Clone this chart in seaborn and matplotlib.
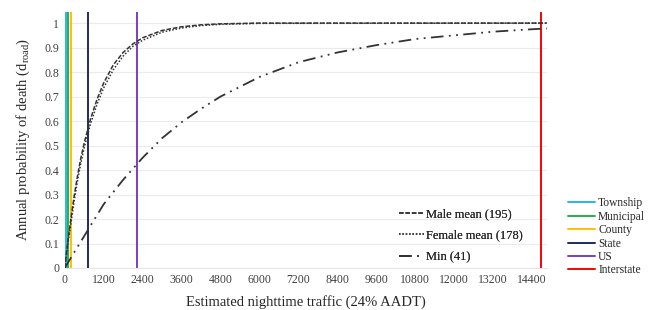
import numpy as np
import pandas as pd
import matplotlib
matplotlib.use('Agg')
import matplotlib.pyplot as plt
from matplotlib.ticker import MultipleLocator, FuncFormatter
from matplotlib.lines import Line2D
import seaborn as sns

# Curve data (traffic vs. annual probability of death)
traffic = [0, 100, 200, 300, 400, 500, 600, 800, 1000, 1200, 1500, 1800,
           2100, 2400, 3000, 3600, 4200, 4800, 6000, 14850]
male_mean = [0, 0.11, 0.21, 0.30, 0.38, 0.45, 0.51, 0.61, 0.69, 0.755, 0.83,
             0.88, 0.915, 0.94, 0.97, 0.985, 0.993, 0.997, 1.0, 1.0]
female_mean = [0, 0.10, 0.19, 0.28, 0.36, 0.43, 0.49, 0.59, 0.67, 0.735, 0.81,
               0.865, 0.905, 0.93, 0.963, 0.98, 0.99, 0.995, 0.999, 1.0]

traffic_min = [0, 600, 1200, 1800, 2400, 3000, 3600, 4200, 4800, 5400, 6000,
               7200, 8400, 9600, 10800, 12000, 13200, 14400, 14850]
min_curve = [0, 0.13, 0.26, 0.36, 0.45, 0.53, 0.595, 0.65, 0.70, 0.74, 0.78,
             0.84, 0.88, 0.91, 0.935, 0.95, 0.965, 0.975, 0.978]

# Road class mean nighttime traffic (vertical lines)
road_names = ['Township', 'Municipal', 'County', 'State', 'US', 'Interstate']
road_traffic = [40, 110, 195, 710, 2215, 14680]
road_colors = ['#29B6E8', '#22B14C', '#FFC000', '#1F2A5C', '#7B3FBF', '#FF0000']

sns.set_style('white')
plt.rcParams['font.family'] = ['Liberation Serif', 'DejaVu Serif']
plt.rcParams['mathtext.fontset'] = 'custom'
plt.rcParams['mathtext.rm'] = 'Liberation Serif'
plt.rcParams['mathtext.it'] = 'Liberation Serif:italic'

fig = plt.figure(figsize=(6.48, 3.10), dpi=100)
ax = fig.add_axes([0.0998, 0.1355, 0.7439, 0.8255])

curves = pd.DataFrame({'traffic': traffic, 'male': male_mean, 'female': female_mean})
mins = pd.DataFrame({'traffic': traffic_min, 'min': min_curve})

for name, x, c in zip(road_names, road_traffic, road_colors):
    ax.axvline(x, color=c, lw=1.4, zorder=2)

sns.lineplot(data=curves, x='traffic', y='male', ax=ax, color='#333333', lw=1.1,
             linestyle=(0, (3, 1.2)), label='Male mean (195)', zorder=3)
sns.lineplot(data=curves, x='traffic', y='female', ax=ax, color='#333333', lw=1.1,
             linestyle=(0, (1, 1.2)), label='Female mean (178)', zorder=3)
sns.lineplot(data=mins, x='traffic', y='min', ax=ax, color='#333333', lw=1.3,
             linestyle=(0, (7, 3, 1, 3, 1, 3)), label='Min (41)', zorder=3)

ax.set_xlim(0, 14850)
ax.set_ylim(0, 1.045)
ax.xaxis.set_major_locator(MultipleLocator(1200))
ax.xaxis.set_minor_locator(MultipleLocator(120))
ax.yaxis.set_major_formatter(FuncFormatter(lambda v, p: f'{v:.1f}'.rstrip('0').rstrip('.') if v else '0'))
ax.set_yticks(np.arange(0, 1.01, 0.1))
ax.grid(axis='y', color='#EBEBEB', lw=0.8, zorder=0)
for s in ['top', 'right', 'left']:
    ax.spines[s].set_visible(False)
ax.spines['bottom'].set_color('#E6E6E6')
ax.tick_params(axis='both', which='major', length=0, labelsize=8.5, colors='#404040', pad=4)
ax.tick_params(axis='x', which='minor', length=3, direction='in', color='#D9D9D9', width=0.6)

ax.set_xlabel('Estimated nighttime traffic (24% AADT)', fontsize=10.5, color='#262626', labelpad=7)
ax.set_ylabel(r'Annual probability of death (d$_{\mathrm{road}}$)', fontsize=10.5, color='#262626', labelpad=9)

leg1 = ax.legend(loc='lower left', bbox_to_anchor=(0.67, -0.025), frameon=False, fontsize=9,
                 handlelength=2.0, handletextpad=0.2, labelspacing=0.75)
ax.add_artist(leg1)

road_handles = [Line2D([0], [0], color=c, lw=1.4) for c in road_colors]
fig.legend(road_handles, road_names, loc='lower left', bbox_to_anchor=(0.86, 0.075),
           frameon=False, fontsize=8.3, handlelength=2.4, handletextpad=0.25,
           labelspacing=0.12)

fig.savefig('out.png', dpi=100)
